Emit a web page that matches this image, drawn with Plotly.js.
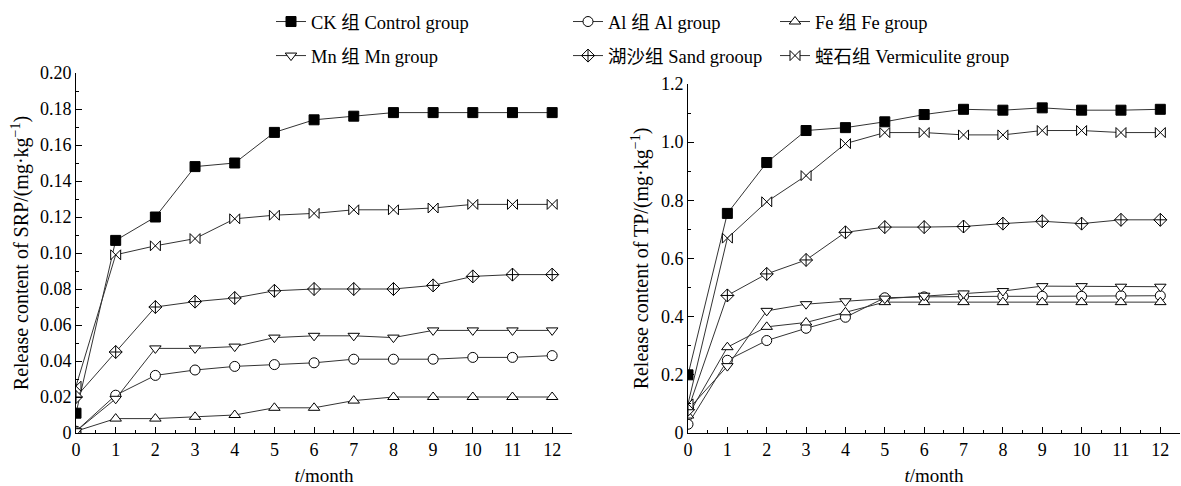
<!DOCTYPE html>
<html>
<head>
<meta charset="utf-8">
<script src="https://cdn.plot.ly/plotly-3.0.1.min.js"></script>
<style>html,body{margin:0;padding:0;background:#fff;}#chart{width:1181px;height:486px;}</style>
</head>
<body>
<div id="chart"></div>
<script>
const months = [0,1,2,3,4,5,6,7,8,9,10,11,12];

const seriesNames = ["CK 组 Control group","Al 组 Al group","Fe 组 Fe group","Mn 组 Mn group","湖沙组 Sand grooup","蛭石组 Vermiculite group"];

// SRP (mg·kg-1)
const srpCK   = [0.011,0.107,0.120,0.148,0.150,0.167,0.174,0.176,0.178,0.178,0.178,0.178,0.178];
const srpAl   = [0.001,0.021,0.032,0.035,0.037,0.038,0.039,0.041,0.041,0.041,0.042,0.042,0.043];
const srpFe   = [0.001,0.008,0.008,0.009,0.010,0.014,0.014,0.018,0.020,0.020,0.020,0.020,0.020];
const srpMn   = [0.001,0.019,0.047,0.047,0.048,0.053,0.054,0.054,0.053,0.057,0.057,0.057,0.057];
const srpSand = [0.020,0.045,0.070,0.073,0.075,0.079,0.080,0.080,0.080,0.082,0.087,0.088,0.088];
const srpVerm = [0.026,0.099,0.104,0.108,0.119,0.121,0.122,0.124,0.124,0.125,0.127,0.127,0.127];

// TP (mg·kg-1)
const tpCK   = [0.200,0.755,0.930,1.040,1.050,1.070,1.095,1.113,1.110,1.118,1.110,1.110,1.113];
const tpAl   = [0.030,0.250,0.318,0.360,0.398,0.465,0.468,0.470,0.470,0.470,0.470,0.472,0.472];
const tpFe   = [0.060,0.295,0.365,0.380,0.415,0.450,0.450,0.450,0.450,0.450,0.450,0.450,0.450];
const tpMn   = [0.080,0.230,0.420,0.443,0.453,0.462,0.472,0.480,0.488,0.505,0.505,0.503,0.503];
const tpSand = [0.080,0.473,0.547,0.595,0.690,0.708,0.708,0.710,0.720,0.728,0.720,0.733,0.733];
const tpVerm = [0.100,0.670,0.795,0.885,0.995,1.033,1.033,1.025,1.025,1.040,1.040,1.033,1.033];

const srpTickVals = [0,0.02,0.04,0.06,0.08,0.10,0.12,0.14,0.16,0.18,0.20];
const srpTickText = ["0","0.02","0.04","0.06","0.08","0.10","0.12","0.14","0.16","0.18","0.20"];
const tpTickVals = [0,0.2,0.4,0.6,0.8,1.0,1.2];
const tpTickText = ["0","0.2","0.4","0.6","0.8","1.0","1.2"];

const srpData = [srpCK, srpAl, srpFe, srpMn, srpSand, srpVerm];
const tpData  = [tpCK, tpAl, tpFe, tpMn, tpSand, tpVerm];

const symbols = ["square","circle","triangle-up","triangle-down","diamond-cross","bowtie"];
const fills   = ["black","white","white","white","white","white"];
const legendOf = ["legend","legend2","legend3","legend","legend2","legend3"];

const FONT = "Liberation Serif, 'Times New Roman', 'Noto Sans CJK SC', serif";

const traces = [];
for (let i = 0; i < 6; i++) {
  const mk = {symbol: symbols[i], size: 10, color: fills[i], line: {color: "black", width: 1}};
  traces.push({
    x: months, y: srpData[i], name: seriesNames[i], type: "scatter", mode: "lines+markers",
    xaxis: "x", yaxis: "y", legend: legendOf[i], legendgroup: "g" + i,
    line: {color: "#333", width: 1}, marker: mk
  });
}
for (let i = 0; i < 6; i++) {
  const mk = {symbol: symbols[i], size: 10, color: fills[i], line: {color: "black", width: 1}};
  traces.push({
    x: months, y: tpData[i], name: seriesNames[i], type: "scatter", mode: "lines+markers",
    xaxis: "x2", yaxis: "y2", showlegend: false, legendgroup: "g" + i,
    line: {color: "#333", width: 1}, marker: mk
  });
}

const W = 1181, H = 486;
const px = v => v / W;
const py = v => (H - v) / H;

const axisCommon = {
  showline: true, linecolor: "black", linewidth: 1, mirror: false,
  ticks: "inside", ticklen: 6, tickcolor: "black", tickwidth: 1,
  showgrid: false, zeroline: false,
  tickfont: {family: FONT, size: 18, color: "black"}
};

const xTitle = {text: "<i>t</i>/month", font: {family: FONT, size: 19, color: "black"}, standoff: 10};

const legendCommon = {
  orientation: "v", yanchor: "top", xanchor: "left",
  font: {family: FONT, size: 18.5, color: "black"},
  bgcolor: "rgba(0,0,0,0)", tracegroupgap: 7, itemwidth: 30
};

const layout = {
  width: W, height: H,
  margin: {l: 0, r: 0, t: 0, b: 0},
  paper_bgcolor: "white", plot_bgcolor: "white",
  font: {family: FONT, color: "black"},
  xaxis: Object.assign({}, axisCommon, {
    domain: [px(76), px(572)], range: [0, 12.5], tickvals: months, anchor: "y",
    minor: {dtick: 0.5, tick0: 0, ticks: "inside", ticklen: 3, tickcolor: "black"},
    title: xTitle
  }),
  yaxis: Object.assign({}, axisCommon, {
    domain: [py(433), py(73)], range: [0, 0.2], anchor: "x",
    tickvals: srpTickVals, ticktext: srpTickText,
    minor: {dtick: 0.01, tick0: 0, ticks: "inside", ticklen: 3, tickcolor: "black"},
    title: {text: "Release content of SRP/(mg·kg<sup>−1</sup>)", font: {family: FONT, size: 20, color: "black"}, standoff: 5}
  }),
  xaxis2: Object.assign({}, axisCommon, {
    domain: [px(688), px(1180)], range: [0, 12.5], tickvals: months, anchor: "y2",
    minor: {dtick: 0.5, tick0: 0, ticks: "inside", ticklen: 3, tickcolor: "black"},
    title: xTitle
  }),
  yaxis2: Object.assign({}, axisCommon, {
    domain: [py(433), py(84)], range: [0, 1.2], anchor: "x2",
    tickvals: tpTickVals, ticktext: tpTickText,
    minor: {dtick: 0.1, tick0: 0, ticks: "inside", ticklen: 3, tickcolor: "black"},
    title: {text: "Release content of TP/(mg·kg<sup>−1</sup>)", font: {family: FONT, size: 20, color: "black"}, standoff: 6}
  }),
  legend:  Object.assign({}, legendCommon, {x: px(271), y: py(3)}),
  legend2: Object.assign({}, legendCommon, {x: px(568), y: py(3)}),
  legend3: Object.assign({}, legendCommon, {x: px(775), y: py(3)}),
  showlegend: true
};

Plotly.newPlot("chart", traces, layout, {displayModeBar: false, staticPlot: true});
</script>
</body>
</html>
